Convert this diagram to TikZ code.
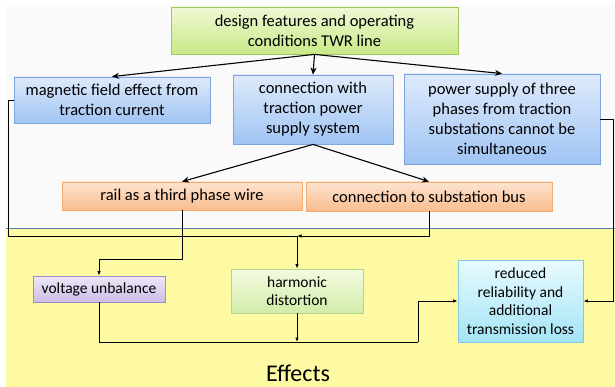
\documentclass[tikz,border=0pt]{standalone}
\usepackage{fontspec}
\setmainfont{Carlito}
\usepackage{xcolor}
\usetikzlibrary{arrows.meta,shadows}

\definecolor{panelgrey}{RGB}{250,250,250}
\definecolor{effyellow}{RGB}{253,250,163}
\definecolor{sepblue}{RGB}{88,120,168}

\begin{document}
\begin{tikzpicture}[x=1pt, y=-1pt,
    box/.style={draw, line width=0.8pt, align=center, inner sep=2pt,
        drop shadow={shadow xshift=1.2pt, shadow yshift=-1.2pt, opacity=0.25}},
    upper/.style={font=\fontsize{16.5}{20}\selectfont},
    lower/.style={font=\fontsize{15.5}{18.5}\selectfont},
    greenbox/.style={box, upper, draw={rgb,255:red,160;green,196;blue,96},
        top color={rgb,255:red,240;green,248;blue,214}, bottom color={rgb,255:red,200;green,233;blue,136}},
    bluebox/.style={box, upper, draw={rgb,255:red,126;green,166;blue,221},
        top color={rgb,255:red,222;green,234;blue,251}, bottom color={rgb,255:red,160;green,196;blue,244}},
    orangebox/.style={box, upper, draw={rgb,255:red,245;green,170;blue,110},
        top color={rgb,255:red,253;green,228;blue,208}, bottom color={rgb,255:red,249;green,188;blue,142}},
    purplebox/.style={box, lower, draw={rgb,255:red,160;green,140;blue,192},
        top color={rgb,255:red,237;green,231;blue,246}, bottom color={rgb,255:red,204;green,189;blue,230}},
    paleboxg/.style={box, lower, draw={rgb,255:red,180;green,212;blue,140},
        top color={rgb,255:red,244;green,251;blue,226}, bottom color={rgb,255:red,210;green,236;blue,168}},
    cyanbox/.style={box, lower, draw={rgb,255:red,128;green,203;blue,224},
        top color={rgb,255:red,232;green,250;blue,254}, bottom color={rgb,255:red,163;green,228;blue,247}},
    arr/.style={-{Stealth[length=7pt,width=6pt]}, line width=1.1pt},
    link/.style={line width=0.9pt},
    larr/.style={link, -{Latex[length=4.5pt,width=3.5pt]}}]
    \useasboundingbox (0,0) rectangle (615,387);

    % Background panels
    \fill[panelgrey] (6,5) rectangle (615,229);
    \fill[effyellow] (6,229) rectangle (615,387);
    \draw[sepblue, line width=1pt] (6,229) -- (615,229);

    % Design features
    \node[greenbox, minimum width=287, minimum height=47] (design) at (314.5,30.5)
        {design features and operating\\conditions TWR line};

    % Magnetic field effect
    \node[bluebox, minimum width=196, minimum height=46] (magnetic) at (112,100)
        {magnetic field effect from\\traction current};

    % Connection with traction power supply
    \node[bluebox, minimum width=160, minimum height=69] (connect) at (313,109.5)
        {connection with\\traction power\\supply system};

    % Power supply of three phases
    \node[bluebox, minimum width=196, minimum height=90] (power) at (502,119)
        {power supply of three\\phases from traction\\substations cannot be\\simultaneous};

    % Rail as third phase
    \node[orangebox, minimum width=240, minimum height=28] (rail) at (182,196)
        {rail as a third phase wire};

    % Substation bus
    \node[orangebox, minimum width=246, minimum height=29] (bus) at (429,196.5)
        {connection to substation bus};

    % Voltage unbalance
    \node[purplebox, minimum width=132, minimum height=26] (unbalance) at (99,289)
        {voltage unbalance};

    % Harmonic distortion
    \node[paleboxg, minimum width=132, minimum height=44] (harmonic) at (297,291)
        {harmonic\\distortion};

    % Reduced reliability
    \node[cyanbox, minimum width=125, minimum height=82] (reduced) at (520.5,301)
        {reduced\\reliability and\\additional\\transmission loss};

    % Effects
    \node[font=\fontsize{24}{28}\selectfont] (effects) at (298,373) {Effects};

    % Junctions
    \coordinate (leftdown) at (8,236);
    \coordinate (harmtop) at (297,236);
    \coordinate (unbtop) at (99,259);
    \coordinate (bottomjoin) at (297,342);
    \coordinate (stepup) at (418,342);
    \coordinate (rightdown) at (613,301);

    % Connections
    \draw[arr] (design.south) -- (magnetic.north);
    \draw[arr] (design.south) -- (connect.north);
    \draw[arr] (design.south) -- (power.north);
    \draw[arr] (connect.south) -- (rail.north);
    \draw[arr] (connect.south) -- (bus.north);
    \draw[link] (magnetic.west) -| (leftdown) -- (harmtop);
    \draw[larr] (bus.south) |- (harmtop);
    \draw[larr] (harmtop) -- (harmonic.north);
    \draw[larr] (rail.south) |- (unbtop) -- (unbalance.north);
    \draw[link] (unbalance.south) |- (stepup);
    \draw[larr] (stepup) |- (reduced.west);
    \draw[larr] (harmonic.south) -- (bottomjoin);
    \draw[larr] (power.east) -| (rightdown) -- (reduced.east);
\end{tikzpicture}
\end{document}
